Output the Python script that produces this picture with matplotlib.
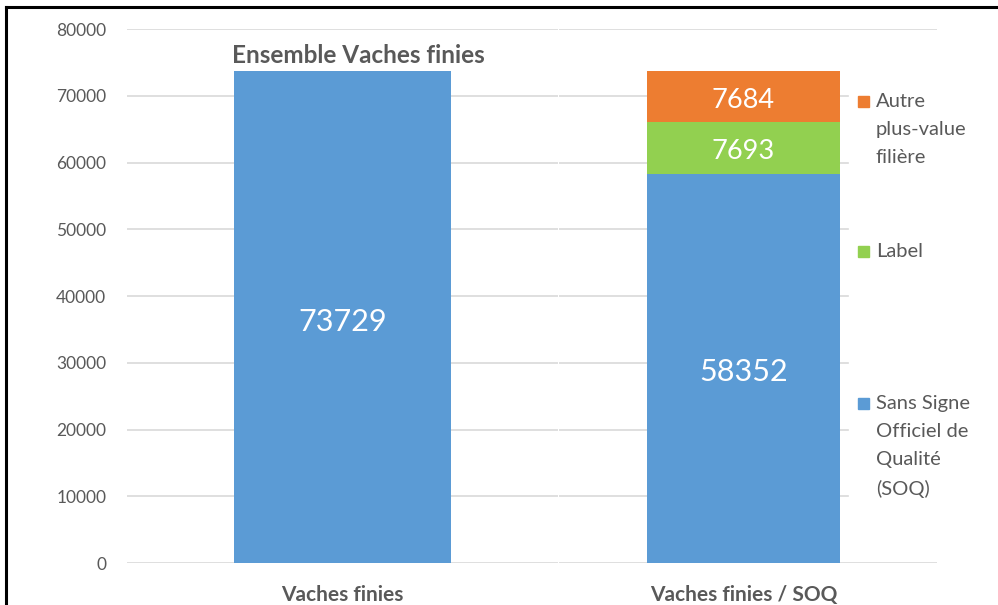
import matplotlib
matplotlib.use("Agg")
import matplotlib.pyplot as plt
from matplotlib.lines import Line2D
from matplotlib.patches import Rectangle

plt.rcParams['font.family'] = ['Lato', 'DejaVu Sans']

# --- data ---
left_category = "Vaches finies"
left_value = 73729
right_category = "Vaches finies / SOQ"
series_names = ["Sans Signe\nOfficiel de\nQualité\n(SOQ)", "Label", "Autre\nplus-value\nfilière"]
series_values = [58352, 7693, 7684]
series_colors = ["#5B9BD5", "#92D050", "#ED7D31"]
yticks = [0, 10000, 20000, 30000, 40000, 50000, 60000, 70000, 80000]

grey = "#595959"
grid_col = "#D9D9D9"

fig = plt.figure(figsize=(9.98, 6.05), dpi=100)
ax1 = fig.add_axes([0.1273, 0.0694, 0.4319, 0.8826])
ax2 = fig.add_axes([0.5601, 0.0694, 0.3788, 0.8826], sharey=ax1)

for ax in (ax1, ax2):
    ax.set_ylim(0, 80000)
    ax.set_xlim(0, 1)
    for s in ax.spines.values():
        s.set_visible(False)
    ax.tick_params(length=0)
    ax.set_xticks([])

ax1.set_yticks(yticks)
ax1.set_yticklabels([str(v) for v in yticks], color=grey, fontsize=12.5)
ax1.tick_params(axis='y', pad=15)
ax2.tick_params(axis='y', labelleft=False)

# gridlines
for v in yticks:
    ax1.axhline(v, color=grid_col, lw=1.2, zorder=0)
    full = v in (0, 80000)
    ax2.axhline(v, xmin=0, xmax=1 if full else 0.765, color=grid_col, lw=1.2, zorder=0)

# left bar
ax1.bar([0.5], [left_value], width=0.503, color=series_colors[0], zorder=2)
ax1.text(0.5, left_value / 2 - 700, str(left_value), ha='center', va='center',
         color='white', fontsize=22)
ax1.text(0.536, 76100, "Ensemble Vaches finies", ha='center', va='center',
         color=grey, fontsize=17.5, fontweight='bold')
ax1.text(0.5, -4750, left_category, ha='center', va='center',
         color=grey, fontsize=15, fontweight='bold')

# right stacked bar
bottom = 0
label_sizes = [22, 19.5, 19.5]
label_shift = [-500, -600, -600]
for val, col, fs, sh in zip(series_values, series_colors, label_sizes, label_shift):
    ax2.bar([0.488], [val], width=0.51, bottom=bottom, color=col, zorder=2)
    ax2.text(0.488, bottom + val / 2 + sh, str(val),
             ha='center', va='center', color='white', fontsize=fs)
    bottom += val
ax2.text(0.488, -4750, right_category, ha='center', va='center',
         color=grey, fontsize=15, fontweight='bold')

# legend (manual, right side)
legend_y = [403, 251, 101]
for name, col, ly in zip(series_names, series_colors, legend_y):
    fig.patches.append(Rectangle((858 / 998, 1 - (ly + 6) / 605), 11 / 998, 11 / 605,
                                 transform=fig.transFigure, color=col, figure=fig))
    fig.text(876 / 998, 1 - (ly - 8) / 605, name, ha='left', va='top',
             color=grey, fontsize=14.5, linespacing=1.78)

# screenshot frame
fig.add_artist(Line2D([6 / 998, 6 / 998], [0, 1 - 7 / 605], color='black', lw=2.2,
                      transform=fig.transFigure))
fig.add_artist(Line2D([6 / 998, 1], [1 - 7 / 605, 1 - 7 / 605], color='black', lw=2.2,
                      transform=fig.transFigure))

fig.savefig("out.png", dpi=100)
